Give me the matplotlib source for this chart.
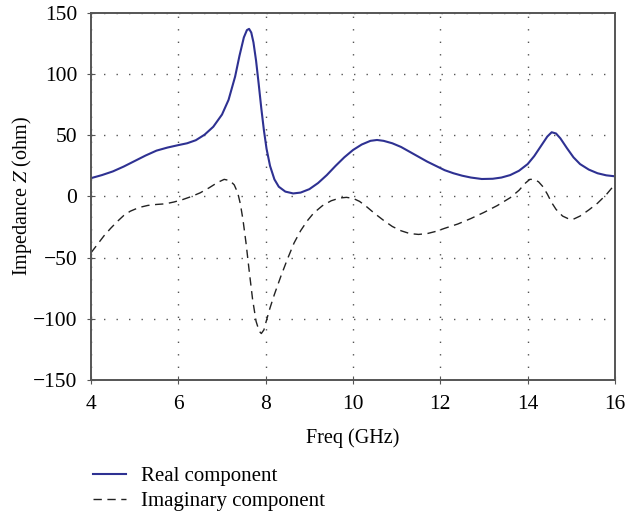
import numpy as np
from matplotlib import pyplot as plt

# values
freq_real = [4.0, 4.25, 4.5, 4.75, 5.0, 5.25, 5.5, 5.75, 6.0, 6.2, 6.4, 6.6, 6.8,
             7.0, 7.15, 7.3, 7.4, 7.5, 7.57, 7.62, 7.67, 7.72, 7.78, 7.84, 7.9,
             7.96, 8.02, 8.1, 8.2, 8.3, 8.45, 8.63, 8.8, 9.0, 9.2, 9.4, 9.6,
             9.8, 10.0, 10.2, 10.4, 10.55, 10.7, 10.9, 11.1, 11.3, 11.5, 11.7,
             11.9, 12.1, 12.3, 12.5, 12.7, 12.95, 13.2, 13.4, 13.6, 13.8, 14.0,
             14.15, 14.3, 14.45, 14.55, 14.65, 14.75, 14.9, 15.05, 15.2, 15.4,
             15.6, 15.8, 16.0]
z_real = [15, 17.5, 20.5, 24.5, 29, 33.5, 37.5, 40, 42, 43.5, 46, 50.5, 57,
          67, 79, 98, 115, 130, 136, 137, 134, 126, 111, 92, 72,
          54, 39, 25, 14, 8, 4, 2.5, 3.2, 6, 11, 17.5, 25,
          32, 38, 42.5, 45.5, 46.2, 45.5, 43.5, 40.5, 36.5, 32.5, 28.5,
          25, 21.5, 19, 17, 15.5, 14.3, 14.5, 15.5, 17.5, 21, 26.5,
          33, 41, 49, 52.5, 51.5, 47.5, 39.5, 32, 26.5, 22,
          19, 17.3, 16.5]

freq_imag = [4.0, 4.15, 4.3, 4.45, 4.6, 4.75, 4.9, 5.1, 5.3, 5.5, 5.7, 5.9, 6.1,
             6.3, 6.5, 6.7, 6.9, 7.05, 7.18, 7.28, 7.36, 7.42, 7.48, 7.55, 7.62,
             7.7, 7.78, 7.85, 7.9, 7.96, 8.02, 8.1, 8.2, 8.35, 8.5, 8.65, 8.8,
             8.95, 9.1, 9.3, 9.5, 9.7, 9.85, 10.0, 10.15, 10.3, 10.5, 10.7,
             10.9, 11.1, 11.3, 11.5, 11.7, 11.9, 12.1, 12.4, 12.7, 13.0, 13.3,
             13.6, 13.8, 13.95, 14.05, 14.15, 14.25, 14.35, 14.45, 14.55,
             14.65, 14.8, 14.95, 15.05, 15.2, 15.4, 15.6, 15.8, 16.0]
z_imag = [-46, -39, -32, -26, -20.5, -15.5, -12, -9, -7.3, -6.5, -6, -4.5, -2.5,
          0, 3, 7, 11.5, 14, 13, 9.5, 3, -6, -19, -38, -60,
          -84, -102, -110, -112, -109, -101, -91, -80, -65, -51, -38, -28,
          -20, -13.5, -7.5, -3.5, -1.2, -0.7, -1.5, -4, -8, -14, -19.5,
          -24.5, -28, -30.3, -31, -30.3, -28.5, -26, -22.5, -18, -13, -7.5,
          -1, 5, 11, 14, 14, 12, 8, 2, -5,
          -10.5, -16, -18.5, -18.5, -16, -11, -5.5, 1.5, 10]

xticks = [4, 6, 8, 10, 12, 14, 16]
yticks = [-150, -100, -50, 0, 50, 100, 150]

plt.rcParams['font.family'] = ['Liberation Serif', 'DejaVu Serif']
plt.rcParams['mathtext.fontset'] = 'stix'

fig = plt.figure(figsize=(6.26, 5.15), dpi=100)
ax = fig.add_axes([0.1454, 0.2621, 0.837, 0.7127])

ax.plot(freq_real, z_real, color='#2e3192', lw=1.5, label='Real component')
ax.plot(freq_imag, z_imag, color='#222222', lw=1.0, dashes=(6, 4),
        label='Imaginary component')

ax.set_xlim(4, 16)
ax.set_ylim(-150, 150)
ax.set_xticks(xticks)
ax.set_yticks(yticks)
ax.set_yticklabels([str(v).replace('-', '\u2212') for v in yticks])
ax.grid(True, color='#555555', lw=1.0, linestyle=(0, (1, 8)))
ax.tick_params(labelsize=15.5, direction='inout', length=6, color='#555555')
ax.tick_params(axis='y', pad=7)
ax.tick_params(axis='x', pad=8)
for s in ax.spines.values():
    s.set_color('#555555')
    s.set_linewidth(1.4)

ax.set_xlabel('Freq (GHz)', fontsize=14.5, labelpad=10)
ax.set_ylabel('Impedance $Z$ (ohm)', fontsize=14.5, labelpad=-1)

fig.legend(loc='upper left', bbox_to_anchor=(0.135, 0.11), frameon=False,
           fontsize=15, handlelength=1.6, handletextpad=0.7, labelspacing=0.25,
           borderaxespad=0)

fig.savefig('out.png', dpi=100)
